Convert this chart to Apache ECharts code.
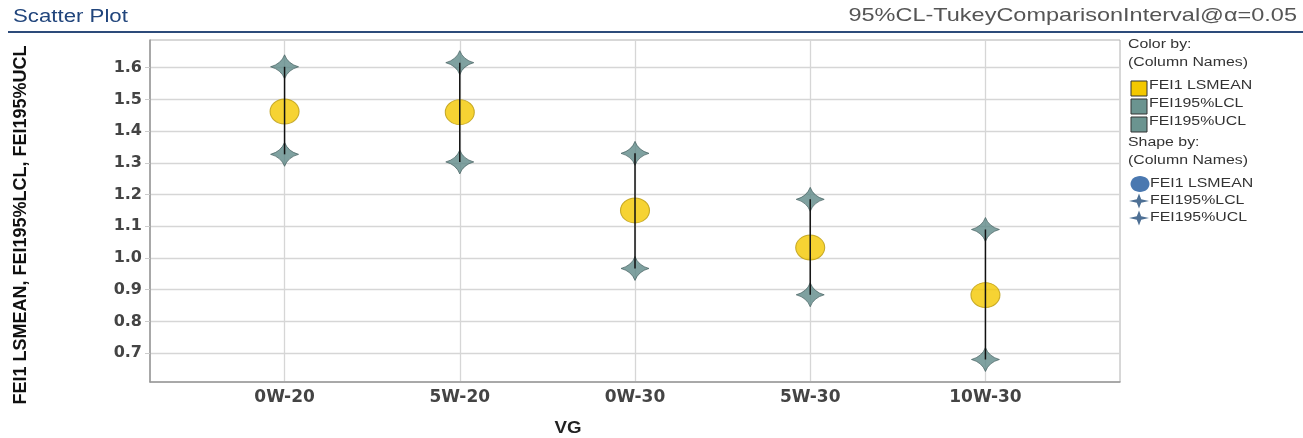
<!DOCTYPE html>
<html>
<head>
<meta charset="utf-8">
<script src="https://cdn.jsdelivr.net/npm/echarts@6/dist/echarts.min.js"></script>
<style>
html,body{margin:0;padding:0;background:#fff;}
#chart{width:1303px;height:438px;}
</style>
</head>
<body>
<div id="chart"></div>
<script>
var categories = ['0W-20', '5W-20', '0W-30', '5W-30', '10W-30'];
var lsmean = [1.462, 1.460, 1.150, 1.033, 0.883];
var lcl = [1.327, 1.303, 0.967, 0.884, 0.680];
var ucl = [1.603, 1.616, 1.330, 1.185, 1.090];
var yTicks = [0.7, 0.8, 0.9, 1.0, 1.1, 1.2, 1.3, 1.4, 1.5, 1.6];
var xTicks = [0, 1, 2, 3, 4];

var FONT = '"Liberation Sans", Arial, sans-serif';
var AXFONT = '"DejaVu Sans", "Liberation Sans", sans-serif';
var SX = 1.27;
var STAR = 'path://M10,0 Q12.4,7.6 20,10 Q12.4,12.4 10,20 Q7.6,12.4 0,10 Q7.6,7.6 10,0 Z';

var chart = echarts.init(document.getElementById('chart'), null, {renderer: 'canvas'});

function pts(arr) { return arr.map(function (v, i) { return [i, v]; }); }
var bars = categories.map(function (c, i) { return [i, lcl[i], ucl[i]]; });

function txt(x, y, s) {
  return {type: 'text', x: x, y: y, scaleX: SX,
    style: {text: s, verticalAlign: 'middle', fontFamily: FONT, fontSize: 12.5, fill: '#333'}};
}
function star(cx, cy, rx, ry, fill) {
  var k = 0.22;
  return {type: 'polygon', shape: {points: [
    [cx, cy - ry], [cx + rx * k, cy - ry * k], [cx + rx, cy], [cx + rx * k, cy + ry * k],
    [cx, cy + ry], [cx - rx * k, cy + ry * k], [cx - rx, cy], [cx - rx * k, cy - ry * k]
  ]}, style: {fill: fill}};
}

var option = {
  animation: false,
  backgroundColor: '#fff',
  grid: {left: 150, right: 183, top: 40, bottom: 56, show: true, borderColor: '#b0b0b0', borderWidth: 1, backgroundColor: '#fff'},
  xAxis: {
    type: 'value',
    min: -0.768,
    max: 4.768,
    axisLine: {show: true, onZero: false, lineStyle: {color: '#999', width: 1.5}},
    axisTick: {show: false, customValues: xTicks},
    splitLine: {show: true, lineStyle: {color: '#d6d6d6', width: 1.3}},
    axisLabel: {
      customValues: xTicks,
      formatter: function (v) { return categories[Math.round(v)]; },
      fontFamily: AXFONT, fontSize: 17, fontWeight: 'bold', color: '#444', margin: 7
    }
  },
  yAxis: {
    type: 'value',
    min: 0.609,
    max: 1.6875,
    axisLine: {show: true, onZero: false, lineStyle: {color: '#999', width: 1.5}},
    axisTick: {show: true, customValues: yTicks, length: 5, lineStyle: {color: '#ccc'}},
    splitLine: {show: true, lineStyle: {color: '#d6d6d6', width: 1.3}},
    axisLabel: {
      customValues: yTicks,
      formatter: function (v) { return v.toFixed(1); },
      fontFamily: AXFONT, fontSize: 16, fontWeight: 'bold', color: '#444', margin: 8
    }
  },
  series: [
    {
      name: 'FEI1 LSMEAN', type: 'scatter', data: pts(lsmean),
      symbol: 'circle', symbolSize: [29, 25], z: 2,
      itemStyle: {color: '#f4c800', borderColor: '#b99a10', borderWidth: 1}
    },
    {
      name: 'FEI195%LCL', type: 'scatter', data: pts(lcl),
      symbol: STAR, symbolSize: [28, 24], z: 2,
      itemStyle: {color: '#5f8a88', borderColor: '#3c5656', borderWidth: 0.8}
    },
    {
      name: 'FEI195%UCL', type: 'scatter', data: pts(ucl),
      symbol: STAR, symbolSize: [28, 24], z: 2,
      itemStyle: {color: '#5f8a88', borderColor: '#3c5656', borderWidth: 0.8}
    },
    {
      name: 'CI', type: 'custom', data: bars, z: 5,
      renderItem: function (params, api) {
        var x = api.value(0);
        var p1 = api.coord([x, api.value(1)]);
        var p2 = api.coord([x, api.value(2)]);
        return {type: 'line', shape: {x1: p1[0], y1: p1[1], x2: p2[0], y2: p2[1]},
          style: {stroke: '#111', lineWidth: 1.5}};
      }
    }
  ],
  graphic: [
    {type: 'text', x: 13, y: 17, scaleX: SX, style: {text: 'Scatter Plot', fontFamily: FONT, fontSize: 17.5, fill: '#21457c', verticalAlign: 'middle'}},
    {type: 'text', x: 1297, y: 16, scaleX: SX, originX: 0, style: {text: '95%CL-TukeyComparisonInterval@α=0.05', fontFamily: FONT, fontSize: 18.5, fill: '#555', align: 'right', verticalAlign: 'middle'}},
    {type: 'line', shape: {x1: 8, y1: 32, x2: 1303, y2: 32}, style: {stroke: '#2d4b7a', lineWidth: 2}},
    {type: 'text', x: 21, y: 225, rotation: Math.PI / 2,
      style: {text: 'FEI1 LSMEAN, FEI195%LCL, FEI195%UCL', fontFamily: FONT, fontSize: 18, fontWeight: 'bold', fill: '#111', align: 'center', verticalAlign: 'middle'}},
    {type: 'text', x: 568, y: 428, scaleX: 1.1, style: {text: 'VG', fontFamily: FONT, fontSize: 17, fontWeight: 'bold', fill: '#222', align: 'center', verticalAlign: 'middle'}},
    txt(1128, 45, 'Color by:'),
    txt(1128, 63, '(Column Names)'),
    {type: 'rect', shape: {x: 1131, y: 81, width: 16, height: 15}, style: {fill: '#f4c800', stroke: '#333', lineWidth: 1}},
    txt(1149, 86, 'FEI1 LSMEAN'),
    {type: 'rect', shape: {x: 1131, y: 99, width: 16, height: 15}, style: {fill: '#6b9490', stroke: '#333', lineWidth: 1}},
    txt(1149, 104, 'FEI195%LCL'),
    {type: 'rect', shape: {x: 1131, y: 117, width: 16, height: 15}, style: {fill: '#6b9490', stroke: '#333', lineWidth: 1}},
    txt(1149, 122, 'FEI195%UCL'),
    txt(1128, 143, 'Shape by:'),
    txt(1128, 161, '(Column Names)'),
    {type: 'ellipse', shape: {cx: 1140, cy: 184, rx: 9.5, ry: 8}, style: {fill: '#4a78b0'}},
    txt(1150, 184, 'FEI1 LSMEAN'),
    star(1139, 201, 10, 7.5, '#4e7095'),
    txt(1150, 201, 'FEI195%LCL'),
    star(1139, 218, 10, 7.5, '#4e7095'),
    txt(1150, 218, 'FEI195%UCL')
  ]
};
chart.setOption(option);
</script>
</body>
</html>
